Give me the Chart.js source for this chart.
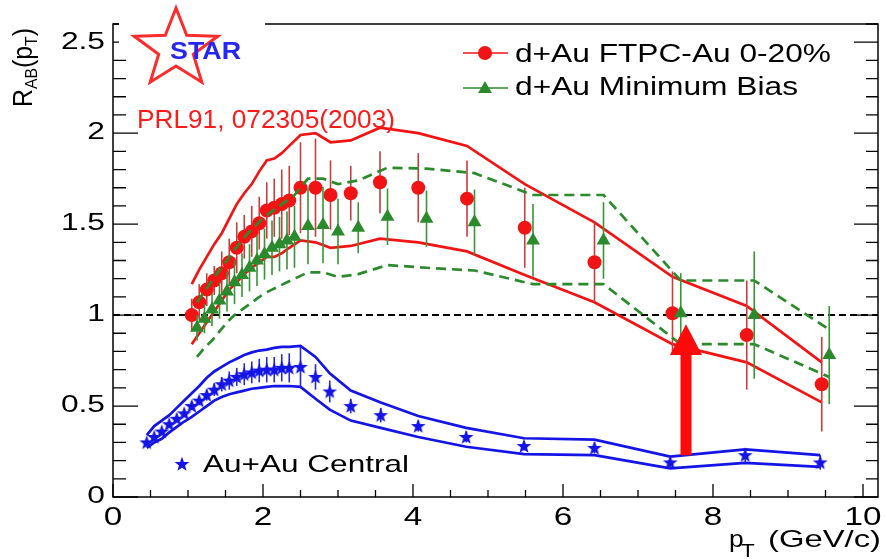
<!DOCTYPE html>
<html>
<head>
<meta charset="utf-8">
<script src="https://cdn.jsdelivr.net/npm/chart.js@4.4.1/dist/chart.umd.min.js"></script>
<style>
  html, body { margin: 0; background: #fff; }
  canvas { display: block; }
</style>
</head>
<body>
<canvas id="rab" width="886" height="559"></canvas>
<script>
// d+Au FTPC-Au 0-20% (red circles), stat. error, band edges
const redX   = [1.05, 1.15, 1.25, 1.35, 1.45, 1.55, 1.65, 1.75, 1.85, 1.95, 2.05, 2.15, 2.25, 2.35, 2.5, 2.7, 2.9, 3.17, 3.56, 4.07, 4.72, 5.49, 6.42, 7.46, 8.45, 9.45];
const redY   = [1.00, 1.07, 1.14, 1.19, 1.23, 1.29, 1.37, 1.43, 1.46, 1.505, 1.575, 1.59, 1.61, 1.63, 1.70, 1.70, 1.66, 1.67, 1.73, 1.70, 1.64, 1.48, 1.29, 1.01, 0.89, 0.62];
const redErr = [0.09, 0.10, 0.09, 0.08, 0.12, 0.13, 0.14, 0.12, 0.14, 0.145, 0.155, 0.16, 0.19, 0.19, 0.25, 0.27, 0.19, 0.15, 0.17, 0.19, 0.21, 0.22, 0.22, 0.23, 0.30, 0.26];
const redHi  = [1.17, 1.25, 1.32, 1.39, 1.45, 1.53, 1.61, 1.67, 1.72, 1.79, 1.85, 1.86, 1.89, 1.93, 1.99, 2.00, 1.95, 1.96, 2.03, 2.00, 1.93, 1.72, 1.51, 1.21, 1.05, 0.74];
const redLo  = [0.84, 0.90, 0.96, 1.02, 1.08, 1.14, 1.18, 1.225, 1.26, 1.29, 1.32, 1.32, 1.34, 1.37, 1.41, 1.40, 1.37, 1.38, 1.42, 1.40, 1.35, 1.22, 1.07, 0.84, 0.74, 0.52];

// d+Au minimum bias (green triangles)
const greenX   = [1.12, 1.22, 1.32, 1.42, 1.52, 1.62, 1.72, 1.82, 1.92, 2.02, 2.12, 2.22, 2.32, 2.42, 2.6, 2.8, 3.0, 3.27, 3.66, 4.18, 4.82, 5.6, 6.54, 7.57, 8.55, 9.55];
const greenY   = [0.93, 0.98, 1.03, 1.08, 1.13, 1.18, 1.22, 1.26, 1.30, 1.335, 1.37, 1.39, 1.41, 1.43, 1.49, 1.495, 1.46, 1.48, 1.54, 1.53, 1.51, 1.41, 1.41, 1.01, 1.00, 0.78];
const greenErr = [0.07, 0.08, 0.09, 0.10, 0.11, 0.12, 0.12, 0.13, 0.14, 0.14, 0.15, 0.15, 0.16, 0.17, 0.21, 0.21, 0.18, 0.14, 0.155, 0.155, 0.18, 0.20, 0.21, 0.22, 0.35, 0.27];
const greenHi  = [1.07, 1.13, 1.19, 1.25, 1.30, 1.36, 1.41, 1.46, 1.50, 1.54, 1.57, 1.60, 1.63, 1.66, 1.75, 1.75, 1.72, 1.74, 1.81, 1.805, 1.78, 1.66, 1.66, 1.19, 1.19, 0.92];
const greenLo  = [0.77, 0.82, 0.86, 0.91, 0.96, 1.00, 1.03, 1.06, 1.09, 1.12, 1.14, 1.16, 1.18, 1.20, 1.235, 1.235, 1.21, 1.225, 1.275, 1.26, 1.245, 1.17, 1.17, 0.84, 0.84, 0.66];

// Au+Au central (blue stars)
const blueX   = [0.45, 0.55, 0.65, 0.75, 0.85, 0.95, 1.05, 1.15, 1.25, 1.35, 1.45, 1.55, 1.65, 1.75, 1.85, 1.95, 2.05, 2.15, 2.25, 2.35, 2.5, 2.7, 2.89, 3.17, 3.57, 4.07, 4.71, 5.48, 6.42, 7.43, 8.43, 9.43];
const blueY   = [0.30, 0.33, 0.36, 0.40, 0.43, 0.46, 0.50, 0.53, 0.56, 0.59, 0.62, 0.64, 0.66, 0.675, 0.685, 0.695, 0.70, 0.70, 0.71, 0.71, 0.715, 0.66, 0.58, 0.50, 0.45, 0.39, 0.33, 0.28, 0.27, 0.19, 0.23, 0.19];
const blueErr = [0.01, 0.01, 0.01, 0.015, 0.015, 0.02, 0.02, 0.025, 0.03, 0.035, 0.04, 0.05, 0.05, 0.06, 0.06, 0.065, 0.07, 0.07, 0.075, 0.08, 0.11, 0.07, 0.06, 0.04, 0.04, 0.03, 0.03, 0.025, 0.03, 0.03, 0.04, 0.04];
const blueHi  = [0.34, 0.39, 0.42, 0.45, 0.49, 0.53, 0.57, 0.61, 0.655, 0.69, 0.715, 0.74, 0.76, 0.78, 0.795, 0.805, 0.81, 0.82, 0.825, 0.825, 0.83, 0.77, 0.68, 0.585, 0.52, 0.445, 0.38, 0.323, 0.315, 0.222, 0.262, 0.23];
const blueLo  = [0.27, 0.30, 0.32, 0.355, 0.385, 0.415, 0.44, 0.47, 0.50, 0.53, 0.55, 0.565, 0.575, 0.585, 0.595, 0.60, 0.605, 0.61, 0.61, 0.61, 0.605, 0.54, 0.48, 0.42, 0.38, 0.33, 0.276, 0.236, 0.23, 0.157, 0.188, 0.166];

const xTicks = [0, 2, 4, 6, 8, 10];
const yTicks = [0, 0.5, 1, 1.5, 2, 2.5];
const unity = 1;                                  // R_AB = 1 reference
const arrow = { x: 7.64, from: 0.23, head: 0.78, to: 0.95 };

const RED = '#f21414', GREEN = '#2b8a2b', BLUE = '#1414e6';
const FONT = '"Liberation Sans", Arial, sans-serif';

const pts = (xs, ys) => xs.map((x, i) => ({ x: x, y: ys[i] }));

// filled five-point star used as the Au+Au marker
function starMarker(size, color) {
  const c = document.createElement('canvas');
  c.width = c.height = size;
  const g = c.getContext('2d');
  const R = size / 2 - 0.3, r = R * 0.42, m = size / 2;
  g.beginPath();
  for (let i = 0; i < 10; i++) {
    const a = -Math.PI / 2 + i * Math.PI / 5;
    const rr = i % 2 ? r : R;
    g.lineTo(m + rr * Math.cos(a), m + 0.5 + rr * Math.sin(a));
  }
  g.closePath();
  g.fillStyle = color;
  g.fill();
  return c;
}
const star = starMarker(16, BLUE);

function band(data, color, dash, order) {
  return {
    data: data, showLine: true, pointRadius: 0, borderColor: color,
    borderWidth: 2.7, borderDash: dash, tension: 0, order: order
  };
}

function markers(data, style, color, radius, errors, barColor, order) {
  return {
    data: data, showLine: false, pointStyle: style, pointRadius: radius,
    pointBackgroundColor: color, pointBorderColor: color, pointBorderWidth: 0,
    errors: errors, errorColor: barColor, order: order
  };
}

// stretched text, ROOT-like wide Helvetica look
function txt(ctx, s, x, y, size, o) {
  o = o || {};
  ctx.save();
  ctx.font = (o.bold ? 'bold ' : '') + size + 'px ' + FONT;
  const w = ctx.measureText(s).width;
  const sx = o.width ? o.width / w : (o.sx || 1);
  const tw = w * sx;
  let x0 = x;
  if (o.align === 'right') x0 = x - tw;
  else if (o.align === 'center') x0 = x - tw / 2;
  ctx.translate(x0, y);
  ctx.scale(sx, 1);
  ctx.fillStyle = o.color || '#000';
  ctx.textAlign = 'left';
  ctx.textBaseline = o.base || 'alphabetic';
  ctx.fillText(s, 0, 0);
  ctx.restore();
  return tw;
}

const rootStyle = {
  id: 'rootStyle',
  beforeDatasetDraw(chart, args) {
    const ds = chart.data.datasets[args.index];
    if (!ds.errors) return;
    const ctx = chart.ctx, xs = chart.scales.x, ys = chart.scales.y;
    ctx.save();
    ctx.strokeStyle = ds.errorColor;
    ctx.lineWidth = 1.6;
    ds.data.forEach((p, i) => {
      const px = xs.getPixelForValue(p.x);
      ctx.beginPath();
      ctx.moveTo(px, ys.getPixelForValue(p.y - ds.errors[i]));
      ctx.lineTo(px, ys.getPixelForValue(p.y + ds.errors[i]));
      ctx.stroke();
    });
    ctx.restore();
  },
  afterDatasetsDraw(chart) {
    const ctx = chart.ctx, xs = chart.scales.x, ys = chart.scales.y;
    const px = xs.getPixelForValue(arrow.x);
    const y0 = ys.getPixelForValue(arrow.from);
    const yh = ys.getPixelForValue(arrow.head);
    const y1 = ys.getPixelForValue(arrow.to);
    ctx.save();
    ctx.fillStyle = '#ff0a0a';
    ctx.beginPath();
    ctx.moveTo(px - 5.5, y0);
    ctx.lineTo(px + 5.5, y0);
    ctx.lineTo(px + 5.5, yh);
    ctx.lineTo(px + 16, yh);
    ctx.lineTo(px, y1);
    ctx.lineTo(px - 16, yh);
    ctx.lineTo(px - 5.5, yh);
    ctx.closePath();
    ctx.fill();
    ctx.restore();
  },
  afterDraw(chart) {
    const ctx = chart.ctx, xs = chart.scales.x, ys = chart.scales.y;
    const { left, right, top, bottom } = chart.chartArea;
    ctx.save();

    // frame
    ctx.strokeStyle = '#000';
    ctx.lineWidth = 1.5;
    ctx.strokeRect(left, top, right - left, bottom - top);

    // inward ticks: y every 0.1, x every 0.5
    ctx.lineWidth = 1.3;
    ctx.beginPath();
    for (let k = 0; k <= 26; k++) {
      const py = ys.getPixelForValue(k / 10);
      const major = k % 5 === 0;
      ctx.moveTo(left, py); ctx.lineTo(left + (major ? 25 : 13), py);
      ctx.moveTo(right, py); ctx.lineTo(right - (major ? 24 : 12), py);
    }
    for (let k = 0; k <= 20; k++) {
      const px = xs.getPixelForValue(k / 2);
      ctx.moveTo(px, bottom); ctx.lineTo(px, bottom - (k % 4 === 0 ? 13 : 7));
    }
    ctx.stroke();

    // tick labels
    yTicks.forEach(v => txt(ctx, String(v), 105, ys.getPixelForValue(v), 23, { sx: 1.38, align: 'right', base: 'middle' }));
    xTicks.forEach(v => txt(ctx, String(v), xs.getPixelForValue(v), 525, 25, { sx: 1.33, align: 'center' }));

    // x title
    txt(ctx, 'p', 729, 547, 24, { sx: 1.1 });
    txt(ctx, 'T', 741, 557, 18, { sx: 1.25 });
    txt(ctx, '(GeV/c)', 881, 547, 24, { width: 113, align: 'right' });

    // y title, rotated, fitted to its slot along the axis
    const parts = [['R', 27, 0], ['AB', 17, 5], ['(', 27, 0], ['p', 27, 0], ['T', 17, 5], [')', 27, 0]];
    let len = 0;
    parts.forEach(([t, s]) => { ctx.font = s + 'px ' + FONT; len += ctx.measureText(t).width; });
    ctx.save();
    ctx.translate(32, 107);
    ctx.rotate(-Math.PI / 2);
    ctx.scale(79 / len, 1);
    ctx.fillStyle = '#000';
    let cx = 0;
    parts.forEach(([t, s, dy]) => {
      ctx.font = s + 'px ' + FONT;
      ctx.fillText(t, cx, dy);
      cx += ctx.measureText(t).width;
    });
    ctx.restore();

    // legend
    const dp = Chart.helpers.drawPoint;
    ctx.lineWidth = 1.5;
    ctx.strokeStyle = RED;
    ctx.beginPath(); ctx.moveTo(463, 53); ctx.lineTo(508, 53); ctx.stroke();
    ctx.fillStyle = RED;
    dp(ctx, { pointStyle: 'circle', radius: 7, borderWidth: 0, rotation: 0 }, 485, 53);
    txt(ctx, 'd+Au FTPC-Au 0-20%', 515, 62, 25, { width: 316 });
    ctx.strokeStyle = GREEN;
    ctx.beginPath(); ctx.moveTo(463, 88); ctx.lineTo(508, 88); ctx.stroke();
    ctx.fillStyle = GREEN;
    dp(ctx, { pointStyle: 'triangle', radius: 8, borderWidth: 0, rotation: 0 }, 485, 89);
    txt(ctx, 'd+Au Minimum Bias', 515, 95, 25, { width: 283 });

    ctx.drawImage(star, 182 - 8, 464 - 8);
    txt(ctx, 'Au+Au Central', 203, 472, 24, { width: 206 });

    txt(ctx, 'PRL91, 072305(2003)', 137, 128, 25, { width: 258, color: '#ff1a1a' });

    // STAR logo on a white patch over the frame corner
    ctx.fillStyle = '#fff';
    ctx.fillRect(119, 0, 146, 50);
    ctx.beginPath();
    for (let i = 0; i < 10; i++) {
      const a = -Math.PI / 2 + i * Math.PI / 5;
      const rr = i % 2 ? 17 : 41;
      ctx.lineTo(176 + 1.07 * rr * Math.cos(a), 49 + rr * Math.sin(a));
    }
    ctx.closePath();
    ctx.strokeStyle = '#ff2a2a';
    ctx.lineWidth = 3;
    ctx.lineJoin = 'miter';
    ctx.stroke();
    txt(ctx, 'STAR', 170, 59, 23, { bold: true, width: 71, color: '#2626f2' });

    ctx.restore();
  }
};

new Chart(document.getElementById('rab'), {
  type: 'scatter',
  data: {
    datasets: [
      markers(pts(blueX, blueY), star, BLUE, 8, blueErr, '#2a2ac8', 1),
      band(pts(blueX, blueHi), BLUE, [], 2),
      band(pts(blueX, blueLo), BLUE, [], 2),
      markers(pts(greenX, greenY), 'triangle', GREEN, 8, greenErr, '#379437', 3),
      band(pts(greenX, greenHi), GREEN, [10, 6], 4),
      band(pts(greenX, greenLo), GREEN, [10, 6], 4),
      markers(pts(redX, redY), 'circle', RED, 7, redErr, '#c83c3c', 5),
      band(pts(redX, redHi), RED, [], 6),
      band(pts(redX, redLo), RED, [], 6),
      { data: [{ x: 0, y: unity }, { x: 10.2, y: unity }], showLine: true, pointRadius: 0,
        borderColor: '#000', borderWidth: 2, borderDash: [7, 4], order: 9 }
    ]
  },
  options: {
    responsive: false,
    animation: false,
    devicePixelRatio: 1,
    events: [],
    layout: { padding: { top: 24, right: 3, left: 0, bottom: 0 } },
    plugins: { legend: { display: false }, tooltip: { enabled: false } },
    scales: {
      x: {
        type: 'linear', min: 0, max: 10.2,
        grid: { display: false }, border: { display: false },
        ticks: { display: false },
        afterBuildTicks: s => { s.ticks = xTicks.map(v => ({ value: v })); },
        afterFit: s => { s.height = 62; }
      },
      y: {
        type: 'linear', min: 0, max: 2.6,
        grid: { display: false }, border: { display: false },
        ticks: { display: false },
        afterBuildTicks: s => { s.ticks = yTicks.map(v => ({ value: v })); },
        afterFit: s => { s.width = 113; }
      }
    }
  },
  plugins: [rootStyle]
});
</script>
</body>
</html>
